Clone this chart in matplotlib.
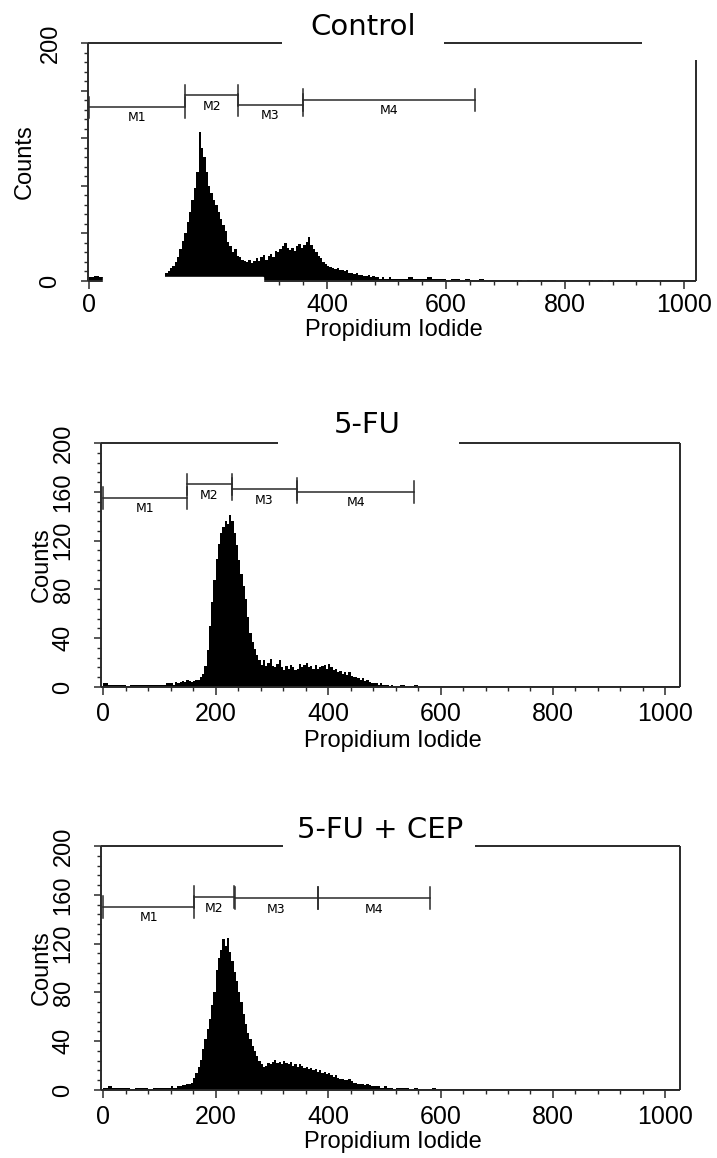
import matplotlib.pyplot as plt
from matplotlib.patches import Rectangle
from matplotlib.ticker import MultipleLocator
import numpy as np

W, H = 717, 1158
plt.rcParams['font.family'] = ['Liberation Sans', 'DejaVu Sans']

# channel bins: 8 wide below 120 and above 520, 4 wide in between
edges = np.concatenate([np.arange(0, 120, 8), np.arange(120, 520, 4), np.arange(520, 1025, 8)])

control_low = [3, 4, 3, 1, 1, 0, 1, 1, 0, 1, 1, 1, 0, 1, 1]
control_mid = [
    2, 3, 7, 8, 11, 13, 16, 20, 27, 34, 40, 50, 58, 68, 78, 92,
    125, 112, 104, 92, 80, 74, 68, 64, 58, 52, 47, 42, 33, 29, 24, 27,
    21, 20, 18, 17, 16, 18, 15, 17, 19, 17, 20, 22, 18, 21, 23, 20,
    25, 24, 27, 29, 32, 28, 26, 28, 25, 29, 31, 28, 30, 33, 37, 30,
    27, 24, 21, 19, 16, 14, 13, 12, 11, 10, 11, 9, 9, 8, 9, 7,
    7, 6, 7, 5, 5, 4, 4, 5, 3, 4, 3, 3, 2, 3, 2, 2,
    3, 2, 2, 2,
]
control_high = [
    2, 2, 3, 2, 2, 2, 3, 2, 2, 2, 1, 2, 2, 1, 2, 1, 1, 2, 1, 1,
    1, 1, 1, 1, 1, 1, 0, 1, 1, 1, 1, 1, 1, 0, 1, 1, 1, 1, 1, 1,
    1, 1, 1, 0, 1, 1, 1, 1, 1, 1, 1, 1, 1, 1, 0, 1, 1, 1, 1, 1,
    1, 1, 1,
]

fu_low = [3, 2, 2, 2, 2, 1, 2, 2, 2, 2, 2, 2, 2, 2, 3]
fu_mid = [
    3, 2, 4, 3, 4, 5, 4, 6, 5, 4, 5, 6, 6, 8, 11, 17,
    30, 50, 70, 88, 105, 117, 126, 131, 136, 134, 141, 136, 126, 116, 104, 93,
    83, 72, 57, 44, 37, 31, 26, 22, 18, 22, 17, 20, 23, 17, 16, 19,
    22, 16, 14, 17, 15, 18, 16, 14, 15, 19, 16, 18, 20, 16, 17, 15,
    18, 15, 16, 17, 18, 15, 19, 16, 14, 15, 12, 13, 11, 12, 10, 12,
    9, 8, 8, 7, 6, 7, 5, 6, 4, 3, 3, 3, 2, 3, 2, 2,
    2, 1, 2, 1,
]
fu_high = [
    1, 2, 1, 1, 2, 1, 1, 1, 1, 1, 1, 1, 1, 1, 1, 1, 1, 1, 1, 1,
    1, 1, 1, 1, 1, 1, 1, 1, 1, 1, 1, 1, 1, 1, 1, 1, 1, 1, 1, 1,
    1, 1, 1, 1, 1, 1, 1, 1, 1, 1, 1, 1, 1, 1, 1, 1, 1, 1, 1, 1,
    1, 1, 1,
]

fucep_low = [2, 3, 2, 2, 2, 2, 1, 2, 2, 2, 1, 2, 2, 2, 2]
fucep_mid = [
    3, 2, 2, 3, 3, 4, 4, 5, 5, 6, 10, 14, 19, 25, 34, 42,
    50, 58, 70, 80, 98, 108, 115, 124, 118, 125, 113, 106, 97, 89, 80, 72,
    62, 54, 47, 42, 36, 32, 28, 24, 21, 19, 20, 22, 21, 23, 25, 22,
    23, 21, 24, 22, 21, 23, 20, 21, 19, 21, 20, 18, 19, 17, 18, 16,
    17, 15, 16, 14, 15, 13, 14, 12, 11, 12, 10, 9, 9, 8, 8, 9,
    7, 6, 6, 5, 5, 5, 4, 5, 4, 3, 3, 3, 3, 2, 2, 3,
    2, 2, 2, 1,
]
fucep_high = [
    2, 2, 2, 1, 2, 1, 1, 1, 2, 1, 1, 1, 1, 1, 1, 1, 1, 1, 1, 1,
    1, 1, 1, 1, 1, 1, 1, 1, 1, 1, 1, 1, 1, 1, 1, 1, 1, 1, 1, 1,
    1, 1, 1, 1, 1, 1, 1, 1, 1, 1, 1, 1, 1, 1, 1, 1, 1, 1, 1, 1,
    1, 1, 1,
]

titles = ['Control', '5-FU', '5-FU + CEP']
marker_names = ['M1', 'M2', 'M3', 'M4']
control_start = [0, 162, 250, 359]
control_end = [162, 250, 359, 649]
control_level = [146, 156, 148, 152]
fu_start = [0, 149, 229, 345]
fu_end = [149, 229, 345, 553]
fu_level = [155, 166, 162, 160]
fucep_start = [0, 162, 235, 382]
fucep_end = [162, 232, 382, 581]
fucep_level = [150, 158, 157, 157]

panels = [
    dict(counts=control_low + control_mid + control_high,
         start=control_start, end=control_end, level=control_level,
         box=(88, 696, 43, 281), xlim=(-1.7, 1020), gap=(0.319, 0.5855), top_end=0.911,
         right_top=0.929, title_xy=(363, 27), counts_x=25, xlabel_y=330, xpad=3,
         ylabels={0: '0', 200: '200'}),
    dict(counts=fu_low + fu_mid + fu_high,
         start=fu_start, end=fu_end, level=fu_level,
         box=(101, 680, 443, 687), xlim=(-3.6, 1025.8), gap=(0.306, 0.618), top_end=1.0,
         right_top=1.0, title_xy=(367, 425), counts_x=42, xlabel_y=741, xpad=5,
         ylabels=None),
    dict(counts=fucep_low + fucep_mid + fucep_high,
         start=fucep_start, end=fucep_end, level=fucep_level,
         box=(101, 680, 846, 1090), xlim=(-3.6, 1025.8), gap=(0.314, 0.646), top_end=1.0,
         right_top=1.0, title_xy=(380, 830), counts_x=42, xlabel_y=1142, xpad=5,
         ylabels=None),
]

fig = plt.figure(figsize=(W / 100, H / 100), dpi=100)
line_c = '#2a2a2a'

for title, p in zip(titles, panels):
    l, r, t, b = p['box']
    ax = fig.add_axes([l / W, 1 - b / H, (r - l) / W, (b - t) / H])
    ax.stairs(p['counts'], edges, fill=True, color='black', lw=0)
    ax.set_xlim(*p['xlim'])
    ax.set_ylim(0, 200)
    for s in ax.spines.values():
        s.set_visible(False)
    kw = dict(color=line_c, lw=1.4, transform=ax.transAxes, clip_on=False, solid_capstyle='butt')
    ax.plot([0, 0], [0, 1], **kw)
    ax.plot([0, 1], [0, 0], **kw)
    ax.plot([0, p['gap'][0]], [1, 1], **kw)
    ax.plot([p['gap'][1], p['top_end']], [1, 1], **kw)
    ax.plot([1, 1], [0, p['right_top']], **kw)

    ax.xaxis.set_major_locator(MultipleLocator(200))
    ax.xaxis.set_minor_locator(MultipleLocator(40))
    ax.yaxis.set_minor_locator(MultipleLocator(8))
    ax.tick_params(axis='x', which='major', length=6, width=1.1, color=line_c,
                   labelsize=18, pad=p['xpad'])
    ax.tick_params(axis='x', which='minor', length=3, width=1, color=line_c)
    ax.tick_params(axis='y', which='major', length=5, width=1.1, color=line_c,
                   labelsize=17, pad=14)
    ax.tick_params(axis='y', which='minor', length=3, width=1, color=line_c)
    yt = np.arange(0, 201, 40)
    ax.set_yticks(yt)
    if p['ylabels'] is None:
        ax.set_yticklabels([str(v) for v in yt], rotation=90, va='center')
    else:
        ax.set_yticklabels([p['ylabels'].get(v, '') for v in yt], rotation=90, va='center')

    # M1..M4 gates
    for name, s, e, lv in zip(marker_names, p['start'], p['end'], p['level']):
        ax.plot([s, e], [lv, lv], color=line_c, lw=1.1)
        for xx in (s, e):
            ax.plot([xx, xx], [lv - 9, lv + 9], color=line_c, lw=1.1)
        ax.text((s + e) / 2, lv - 9, name, ha='center', va='center', fontsize=9,
                family='DejaVu Sans')

    tx, ty = p['title_xy']
    fig.text(tx / W, 1 - ty / H, title, ha='center', va='center', fontsize=21,
             family=['Liberation Sans Narrow', 'DejaVu Sans'])
    fig.text(p['counts_x'] / W, 1 - ((t + b) / 2) / H, 'Counts', rotation=90,
             ha='center', va='center', fontsize=17)
    fig.text(((l + r) / 2 + 2) / W, 1 - p['xlabel_y'] / H, 'Propidium Iodide',
             ha='center', va='center', fontsize=17)

# blank scan patch over the Control baseline
fig.add_artist(Rectangle((103 / W, 1 - 314 / H), 160 / W, 37 / H,
                         transform=fig.transFigure, color='white', zorder=10))

fig.savefig('out.png', dpi=100)
